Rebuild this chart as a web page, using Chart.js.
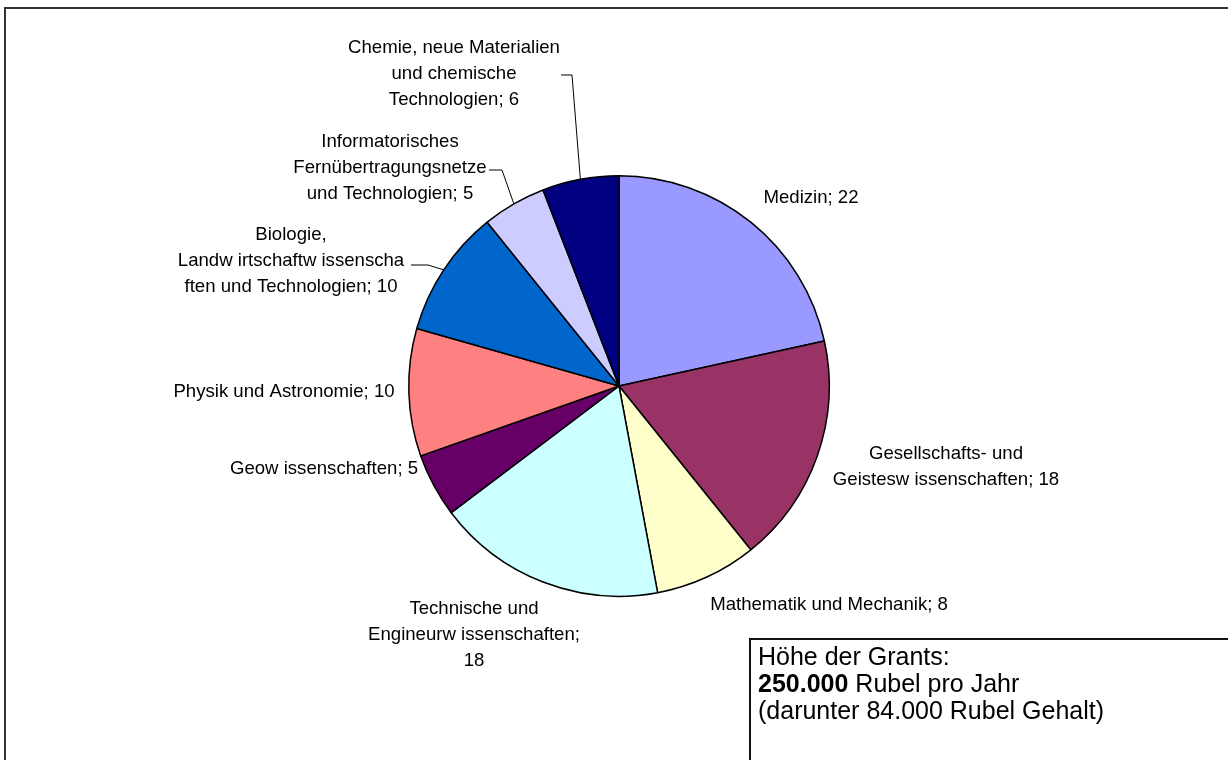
<!DOCTYPE html>
<html lang="de">
<head>
  <meta charset="UTF-8" />
  <title>Grants nach Fachgebieten</title>
  <script src="https://cdn.jsdelivr.net/npm/chart.js"></script>
  <style>
    body {
      margin: 0;
      background: #fff;
      overflow: hidden;
      font-family: 'Liberation Sans', Arial, sans-serif;
    }

    .wrap {
      position: relative;
      width: 1228px;
      height: 760px;
    }

    .frame {
      position: absolute;
      left: 4px;
      top: 7px;
      width: 1300px;
      height: 800px;
      border-left: 2px solid #333;
      border-top: 2px solid #333;
    }

    canvas {
      position: absolute;
      left: 0;
      top: 0;
    }

    .info {
      position: absolute;
      left: 749px;
      top: 638px;
      width: 600px;
      height: 200px;
      border-left: 2px solid #111;
      border-top: 2px solid #111;
      padding: 3px 0 0 7px;
      font-size: 25px;
      line-height: 27px;
      color: #000;
    }
  </style>
</head>
<body>
  <div class="wrap">
    <div class="frame"></div>
    <canvas id="grantsPie" width="1228" height="760"></canvas>
    <div class="info">
      Höhe der Grants:<br>
      <b>250.000</b> Rubel pro Jahr<br>
      (darunter 84.000 Rubel Gehalt)
    </div>
  </div>

  <script>
    // Fachgebiete, clockwise from 12 o'clock; '\n' marks where the label wraps
    const categories = [
      'Medizin',
      'Gesellschafts- und\nGeistesw issenschaften',
      'Mathematik und Mechanik',
      'Technische und\nEngineurw issenschaften',
      'Geow issenschaften',
      'Physik und Astronomie',
      'Biologie,\nLandw irtschaftw issenscha\nften und Technologien',
      'Informatorisches\nFernübertragungsnetze\nund Technologien',
      'Chemie, neue Materialien\nund chemische\nTechnologien'
    ];
    const values = [22, 18, 8, 18, 5, 10, 10, 5, 6];
    const colors = ['#9999ff', '#993366', '#ffffcc', '#ccffff', '#660066',
                    '#ff8080', '#0066cc', '#ccccff', '#000080'];

    // label placement: centre x, first line y, separator before the value,
    // and an optional leader elbow [x, y, end x]
    const labelLayout = [
      { x: 811, y: 198 },
      { x: 946, y: 454 },
      { x: 829, y: 605 },
      { x: 474, y: 609, sep: ';\n' },
      { x: 324, y: 469 },
      { x: 284, y: 392 },
      { x: 291, y: 235, leader: [428, 265, 411] },
      { x: 390, y: 142, leader: [502, 170, 489] },
      { x: 454, y: 48,  leader: [572, 75, 561] }
    ];

    const LINE_H = 26;

    const sliceLabels = {
      id: 'sliceLabels',
      afterDraw(chart) {
        const ctx = chart.ctx;
        const arcs = chart.getDatasetMeta(0).data;
        ctx.save();
        ctx.font = '18.6px "Liberation Sans", Arial, sans-serif';
        ctx.fillStyle = '#000';
        ctx.textAlign = 'center';
        ctx.textBaseline = 'middle';

        arcs.forEach((arc, i) => {
          const pos = labelLayout[i];
          const text = categories[i] + (pos.sep || '; ') + values[i];
          text.split('\n').forEach((line, k) => {
            ctx.fillText(line, pos.x, pos.y + k * LINE_H);
          });

          if (pos.leader) {
            const p = arc.getProps(['x', 'y', 'startAngle', 'endAngle', 'outerRadius'], true);
            const mid = (p.startAngle + p.endAngle) / 2;
            const ex = p.x + Math.cos(mid) * p.outerRadius;
            const ey = p.y + Math.sin(mid) * p.outerRadius;
            ctx.beginPath();
            ctx.moveTo(ex, ey);
            ctx.lineTo(pos.leader[0], pos.leader[1]);
            ctx.lineTo(pos.leader[2], pos.leader[1]);
            ctx.strokeStyle = '#000';
            ctx.lineWidth = 1;
            ctx.stroke();
          }
        });
        ctx.restore();
      }
    };

    new Chart(document.getElementById('grantsPie'), {
      type: 'pie',
      data: {
        labels: categories,
        datasets: [{
          data: values,
          backgroundColor: colors,
          borderColor: '#000',
          borderWidth: 1.5
        }]
      },
      options: {
        responsive: false,
        animation: false,
        layout: {
          padding: { left: 408, right: 398, top: 175, bottom: 163 }
        },
        plugins: {
          legend: { display: false },
          tooltip: { enabled: false }
        }
      },
      plugins: [sliceLabels]
    });
  </script>
</body>
</html>
